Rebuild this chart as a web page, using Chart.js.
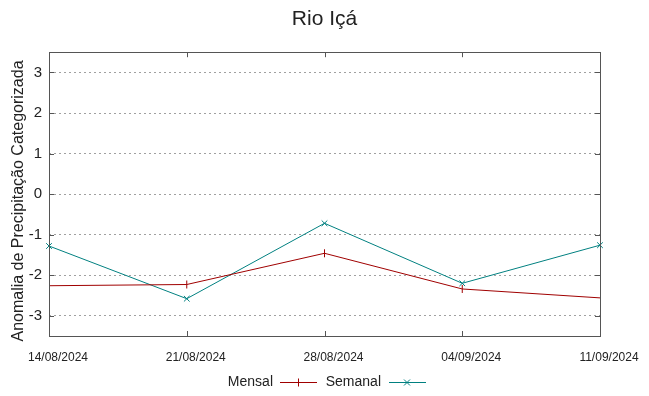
<!DOCTYPE html>
<html>
<head>
<meta charset="utf-8">
<script src="https://cdn.jsdelivr.net/npm/chart.js@4.4.1/dist/chart.umd.min.js"></script>
<style>
    html, body { margin: 0; padding: 0; background: #fff; }
    #wrap { width: 649px; height: 396px; }
</style>
</head>
<body>
<div id="wrap"><canvas id="myChart" width="649" height="396"></canvas></div>
<script>
// DATA

const dates = ['14/08/2024', '21/08/2024', '28/08/2024', '04/09/2024', '11/09/2024'];
const mensal = [-2.26, -2.23, -1.46, -2.34, -2.56];
const semanal = [-1.28, -2.58, -0.72, -2.20, -1.26];
const yTicks = [-3, -2, -1, 0, 1, 2, 3];

const RED = '#a00000';
const TEAL = '#008080';
const FONT = "'Liberation Sans', Arial, sans-serif";

// gnuplot style frame, inward ticks, y title and legend
const framePlugin = {
    id: 'frame',
    afterDraw(chart) {
        const ctx = chart.ctx;
        const a = chart.chartArea;
        const x = chart.scales.x;
        const y = chart.scales.y;
        ctx.save();
        ctx.strokeStyle = '#555';
        ctx.lineWidth = 1;
        ctx.strokeRect(Math.round(a.left) + 0.5, Math.round(a.top) + 0.5,
            Math.round(a.right - a.left), Math.round(a.bottom - a.top));

        ctx.beginPath();
        yTicks.forEach(v => {
            const py = Math.round(y.getPixelForValue(v)) + 0.5;
            ctx.moveTo(a.left, py); ctx.lineTo(a.left + 5, py);
            ctx.moveTo(a.right, py); ctx.lineTo(a.right - 5, py);
        });
        dates.forEach((d, i) => {
            const px = Math.round(x.getPixelForValue(i)) + 0.5;
            ctx.moveTo(px, a.bottom); ctx.lineTo(px, a.bottom - 5);
            ctx.moveTo(px, a.top); ctx.lineTo(px, a.top + 5);
        });
        ctx.stroke();

        // y axis title
        ctx.save();
        ctx.translate(19, 201);
        ctx.rotate(-Math.PI / 2);
        ctx.font = '16px ' + FONT;
        ctx.fillStyle = '#222';
        ctx.textAlign = 'center';
        ctx.textBaseline = 'middle';
        ctx.fillText('Anomalia de Precipitação Categorizada', 0, 0);
        ctx.restore();

        // legend
        ctx.font = '14px ' + FONT;
        ctx.fillStyle = '#222';
        ctx.textBaseline = 'middle';
        ctx.textAlign = 'right';
        const ly = 382.5;
        ctx.fillText('Mensal', 273, ly);
        ctx.fillText('Semanal', 381, ly);

        ctx.lineWidth = 1;
        ctx.strokeStyle = RED;
        ctx.beginPath();
        ctx.moveTo(280, ly); ctx.lineTo(317, ly);
        ctx.moveTo(298.5, ly - 4); ctx.lineTo(298.5, ly + 4);
        ctx.stroke();

        ctx.strokeStyle = TEAL;
        ctx.beginPath();
        ctx.moveTo(389, ly); ctx.lineTo(426, ly);
        ctx.moveTo(404, ly - 3); ctx.lineTo(410, ly + 3);
        ctx.moveTo(404, ly + 3); ctx.lineTo(410, ly - 3);
        ctx.stroke();
        ctx.restore();
    }
};

const ctx = document.getElementById('myChart').getContext('2d');

new Chart(ctx, {
    type: 'line',
    data: {
        labels: dates,
        datasets: [
            {
                label: 'Mensal',
                data: mensal,
                borderColor: RED,
                backgroundColor: RED,
                borderWidth: 1,
                pointStyle: 'line',
                pointRotation: 90,
                pointRadius: [0, 4, 4, 4, 0],
                pointBorderWidth: 1,
                tension: 0
            },
            {
                label: 'Semanal',
                data: semanal,
                borderColor: TEAL,
                backgroundColor: TEAL,
                borderWidth: 1,
                pointStyle: 'crossRot',
                pointRadius: 4,
                pointBorderWidth: 1,
                tension: 0
            }
        ]
    },
    options: {
        responsive: false,
        animation: false,
        events: [],
        layout: { padding: 0 },
        plugins: {
            legend: { display: false },
            tooltip: { enabled: false },
            title: {
                display: true,
                text: 'Rio Içá',
                color: '#222',
                font: { family: FONT, size: 21, weight: 'normal' },
                padding: { top: 7, bottom: 20 }
            }
        },
        scales: {
            x: {
                type: 'category',
                offset: false,
                grid: { display: false, drawTicks: false },
                border: { display: false },
                ticks: {
                    autoSkip: false,
                    maxRotation: 0,
                    padding: 14,
                    labelOffset: 9,
                    color: '#222',
                    font: { family: FONT, size: 12 }
                },
                afterFit: scale => { scale.height = 60; }
            },
            y: {
                min: -3.5,
                max: 3.5,
                afterBuildTicks: scale => {
                    scale.ticks = yTicks.map(v => ({ value: v }));
                },
                grid: { color: '#a0a0a0', lineWidth: 1, drawTicks: false },
                border: { display: false, dash: [2, 3] },
                ticks: {
                    padding: 7,
                    color: '#222',
                    font: { family: FONT, size: 15 }
                },
                afterFit: scale => { scale.width = 49; }
            },
            y2: {
                position: 'right',
                min: -3.5,
                max: 3.5,
                grid: { display: false, drawTicks: false },
                border: { display: false },
                ticks: { display: false },
                afterFit: scale => { scale.width = 49; }
            }
        }
    },
    plugins: [framePlugin]
});
</script>
</body>
</html>
